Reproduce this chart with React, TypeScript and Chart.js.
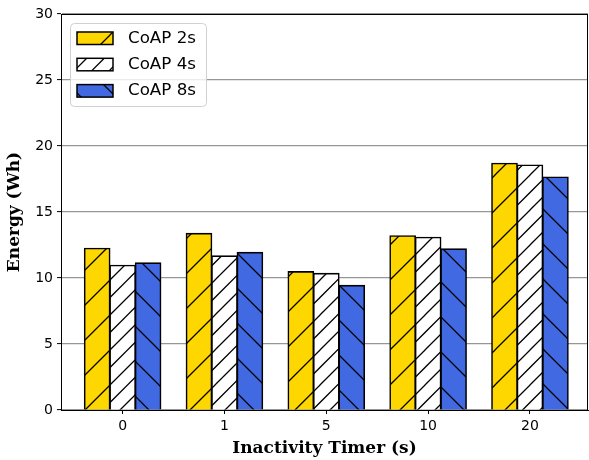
import React, { useEffect, useRef } from "react";
import { Chart, registerables } from "chart.js";

Chart.register(...registerables);

const categories = ["0", "1", "5", "10", "20"];
const coap2s = [12.25, 13.38, 10.48, 13.2, 18.69];
const coap4s = [10.96, 11.67, 10.35, 13.08, 18.56];
const coap8s = [11.14, 11.94, 9.44, 12.2, 17.65];
const seriesNames = ["CoAP 2s", "CoAP 4s", "CoAP 8s"];
const yTicks = [0, 5, 10, 15, 20, 25, 30];

function makeHatch(color: string, dir: "ne" | "nw", spacing: number, tile: number, shift: number) {
  const c = document.createElement("canvas");
  c.width = tile;
  c.height = tile;
  const g = c.getContext("2d")!;
  g.fillStyle = color;
  g.fillRect(0, 0, tile, tile);
  g.strokeStyle = "#000";
  g.lineWidth = 1.25;
  g.beginPath();
  if (dir === "ne") {
    for (let k = 0; k <= (2 * tile) / spacing + 1; k++) {
      const cc = k * spacing;
      g.moveTo(cc + 2, -2);
      g.lineTo(cc - 2 * tile, 2 * tile);
    }
  } else {
    for (let k = -Math.ceil(tile / spacing) - 1; k <= Math.ceil(tile / spacing) + 1; k++) {
      const cc = k * spacing;
      g.moveTo(cc - 2, -2);
      g.lineTo(cc + 2 * tile, 2 * tile);
    }
  }
  g.stroke();
  const p = g.createPattern(c, "repeat")!;
  try {
    p.setTransform(new DOMMatrix([1, 0, 0, 1, shift, 0]));
  } catch (e) {}
  return p;
}

export default function App() {
  const ref = useRef<HTMLCanvasElement>(null);
  useEffect(() => {
    document.body.style.margin = "0";
    const canvas = ref.current!;
    const ctx = canvas.getContext("2d")!;
    const patterns = [
      makeHatch("#FFD700", "ne", 35, 35, 5),
      makeHatch("#FFFFFF", "ne", 17.5, 35, 5),
      makeHatch("#4169E1", "nw", 35, 35, 19),
    ];
    const seriesData = [coap2s, coap4s, coap8s];

    const framePlugin = {
      id: "frame",
      afterDatasetsDraw(chart: any) {
        const { ctx: c, chartArea: a } = chart;
        c.save();
        c.strokeStyle = "#000";
        c.lineWidth = 1;
        c.strokeRect(Math.round(a.left) + 0.5, Math.round(a.top) + 0.5, Math.round(a.right - a.left) - 1, Math.round(a.bottom - a.top));
        c.restore();
      },
    };

    const legendPlugin = {
      id: "innerLegend",
      afterDraw(chart: any) {
        const c = chart.ctx;
        c.save();
        const x0 = 70.5, y0 = 23.5, w = 136, h = 83, r = 4;
        c.beginPath();
        c.moveTo(x0 + r, y0);
        c.lineTo(x0 + w - r, y0);
        c.quadraticCurveTo(x0 + w, y0, x0 + w, y0 + r);
        c.lineTo(x0 + w, y0 + h - r);
        c.quadraticCurveTo(x0 + w, y0 + h, x0 + w - r, y0 + h);
        c.lineTo(x0 + r, y0 + h);
        c.quadraticCurveTo(x0, y0 + h, x0, y0 + h - r);
        c.lineTo(x0, y0 + r);
        c.quadraticCurveTo(x0, y0, x0 + r, y0);
        c.closePath();
        c.fillStyle = "rgba(255,255,255,0.8)";
        c.fill();
        c.strokeStyle = "#d0d0d0";
        c.lineWidth = 1;
        c.stroke();
        seriesNames.forEach((name, i) => {
          const sy = 32 + i * 26.3;
          c.fillStyle = patterns[i];
          c.fillRect(77, sy, 36, 12.5);
          c.strokeStyle = "#000";
          c.lineWidth = 1.5;
          c.strokeRect(77, sy, 36, 12.5);
          c.fillStyle = "#000";
          c.font = "16.7px 'DejaVu Sans'";
          c.textBaseline = "middle";
          c.textAlign = "left";
          c.fillText(name, 128, sy + 6.5);
        });
        c.restore();
      },
    };

    const chart = new Chart(ctx, {
      type: "bar",
      data: {
        datasets: seriesData.map((arr, i) => ({
          label: seriesNames[i],
          data: arr.map((v, j) => ({ x: j, y: v })),
          backgroundColor: patterns[i],
          borderColor: "#000",
          borderWidth: 1.6,
          inflateAmount: 0.6,
          categoryPercentage: 0.75,
          barPercentage: 1.0,
        })),
      },
      options: {
        animation: false,
        responsive: false,
        devicePixelRatio: 1,
        layout: { padding: { top: 14, right: 1, left: 0, bottom: 0 } },
        plugins: { legend: { display: false }, tooltip: { enabled: false } },
        scales: {
          x: {
            type: "linear",
            offset: false,
            min: -0.605,
            max: 4.57,
            afterBuildTicks: (s: any) => {
              s.ticks = categories.map((_, i) => ({ value: i }));
            },
            afterFit: (s: any) => {
              s.height = 50;
            },
            ticks: {
              callback: (v: any) => categories[v as number] ?? "",
              color: "#000",
              font: { family: "'DejaVu Sans'", size: 14 },
              padding: 4,
              maxRotation: 0,
            },
            grid: { display: true, offset: false, drawOnChartArea: false, drawTicks: true, tickLength: 4, tickColor: "#000", tickWidth: 1 },
            border: { display: true, color: "#000", width: 1 },
            title: {
              display: true,
              text: "Inactivity Timer (s)",
              color: "#000",
              font: { family: "'DejaVu Serif'", size: 17, weight: "bold" },
              padding: { top: 0, bottom: 1 },
            },
          },
          y: {
            min: 0,
            max: 30,
            afterBuildTicks: (s: any) => {
              s.ticks = yTicks.map((v) => ({ value: v }));
            },
            afterFit: (s: any) => {
              s.width = 61;
            },
            ticks: {
              color: "#000",
              font: { family: "'DejaVu Sans'", size: 14 },
              padding: 4,
            },
            grid: { color: "#969696", lineWidth: 1.2, tickLength: 4, tickColor: "#000", tickWidth: 1 },
            border: { display: true, color: "#000", width: 1 },
            title: {
              display: true,
              text: "Energy (Wh)",
              color: "#000",
              font: { family: "'DejaVu Serif'", size: 17, weight: "bold" },
              padding: { top: 4, bottom: 0 },
            },
          },
        },
      },
      plugins: [framePlugin, legendPlugin],
    } as any);
    return () => chart.destroy();
  }, []);
  return (
    <div style={{ width: 589, height: 460 }}>
      <canvas ref={ref} width={589} height={460} style={{ display: "block" }} />
    </div>
  );
}
